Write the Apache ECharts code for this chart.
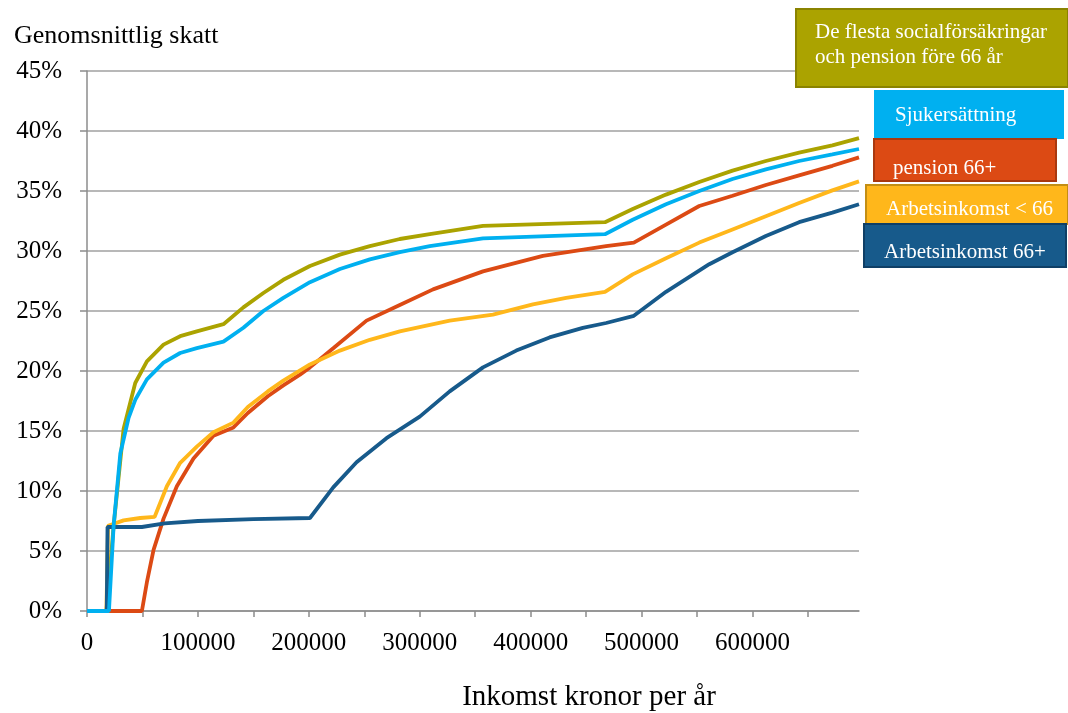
<!DOCTYPE html>
<html>
<head>
<meta charset="utf-8">
<script src="https://cdn.jsdelivr.net/npm/echarts@6/dist/echarts.min.js"></script>
<style>
  html, body { margin: 0; padding: 0; background: #fff; }
  #chart { width: 1068px; height: 713px; }
</style>
</head>
<body>
<div id="chart"></div>
<script>
// serienamn
var names = ['De flesta socialförsäkringar\noch pension före 66 år', 'Sjukersättning', 'pension 66+', 'Arbetsinkomst < 66', 'Arbetsinkomst 66+'];

// inkomst (kr/år) och genomsnittlig skatt (%) per serie
var socialX = [0, 17500, 24000, 33000, 43500, 54000, 69000, 84000, 99000, 123000, 141000, 159000, 177000, 201000, 228000, 255000, 282000, 309000, 357000, 467000, 492000, 522000, 552000, 582000, 612000, 642000, 672000, 696000];
var socialY = [0, 0, 7.1, 15.2, 19.0, 20.8, 22.2, 22.9, 23.3, 23.9, 25.3, 26.5, 27.6, 28.75, 29.7, 30.4, 31.0, 31.4, 32.1, 32.4, 33.5, 34.7, 35.75, 36.7, 37.5, 38.2, 38.8, 39.4];

var sjukX = [0, 19800, 24000, 30000, 37500, 43500, 54000, 69000, 84000, 99000, 123000, 141000, 159000, 177000, 201000, 228000, 255000, 282000, 309000, 357000, 467000, 492000, 522000, 552000, 582000, 612000, 642000, 672000, 696000];
var sjukY = [0, 0, 7.1, 13.1, 16.1, 17.6, 19.3, 20.7, 21.5, 21.9, 22.45, 23.6, 25.0, 26.1, 27.4, 28.5, 29.3, 29.9, 30.4, 31.05, 31.4, 32.6, 33.9, 35.0, 36.0, 36.8, 37.5, 38.05, 38.5];

var pensionX = [0, 49500, 54000, 60000, 69000, 81000, 96000, 114000, 132000, 145000, 163000, 177000, 192000, 201000, 222000, 252000, 282000, 312000, 357000, 411000, 468000, 493000, 522000, 552000, 582000, 612000, 642000, 672000, 696000];
var pensionY = [0, 0, 2.4, 5.1, 7.7, 10.4, 12.7, 14.6, 15.3, 16.5, 17.9, 18.8, 19.7, 20.3, 21.9, 24.2, 25.5, 26.8, 28.3, 29.6, 30.4, 30.7, 32.2, 33.75, 34.6, 35.5, 36.3, 37.1, 37.8];

var arbUnderX = [0, 17500, 19000, 33000, 48000, 61000, 72000, 84000, 99000, 114000, 132000, 145000, 163000, 177000, 201000, 228000, 255000, 282000, 327000, 366000, 402000, 432000, 467000, 492000, 522000, 552000, 582000, 612000, 642000, 672000, 696000];
var arbUnderY = [0, 0, 7.1, 7.55, 7.75, 7.85, 10.4, 12.35, 13.7, 14.9, 15.7, 17.0, 18.3, 19.2, 20.55, 21.7, 22.6, 23.3, 24.2, 24.7, 25.55, 26.1, 26.6, 28.05, 29.4, 30.7, 31.8, 32.9, 34.0, 35.05, 35.8];

var arbOverX = [0, 17800, 18500, 49500, 70000, 100000, 150000, 201000, 222000, 243000, 270000, 300000, 327000, 357000, 387000, 417000, 447000, 468000, 493000, 522000, 561000, 582000, 612000, 642000, 672000, 696000];
var arbOverY = [0, 0, 7.0, 7.0, 7.3, 7.5, 7.65, 7.75, 10.3, 12.4, 14.4, 16.2, 18.3, 20.3, 21.7, 22.8, 23.6, 24.0, 24.6, 26.6, 28.9, 29.9, 31.25, 32.4, 33.2, 33.9];

var colors = ['#aba300', '#00b0f0', '#dc4a14', '#ffb71b', '#175a8b'];
var borders = ['#8a8300', '#00b0f0', '#a9380f', '#c38e14', '#0f3f66'];

function pairs(xs, ys) {
    var out = [];
    for (var i = 0; i < xs.length; i++) out.push([xs[i], ys[i]]);
    return out;
}

var seriesData = [
    pairs(socialX, socialY),
    pairs(sjukX, sjukY),
    pairs(pensionX, pensionY),
    pairs(arbUnderX, arbUnderY),
    pairs(arbOverX, arbOverY)
];
// ritordning: oliv, röd, gul, mörkblå, cyan överst
var drawOrder = [0, 2, 3, 4, 1];

var serif = 'Liberation Serif';
var chart = echarts.init(document.getElementById('chart'));

var series = [];
drawOrder.forEach(function (k) {
    series.push({
        name: names[k],
        type: 'line',
        data: seriesData[k],
        showSymbol: false,
        smooth: false,
        lineStyle: { color: colors[k], width: 3.8 },
        itemStyle: { color: colors[k] },
        z: 2
    });
});

// textrutor till höger
var boxes = [
    { x: 796, y: 9, w: 272, h: 78, tx: 815, ty: 20 },
    { x: 875, y: 91, w: 188, h: 47, tx: 895, ty: 103 },
    { x: 874, y: 139, w: 182, h: 42, tx: 893, ty: 156 },
    { x: 866, y: 185, w: 202, h: 39, tx: 886, ty: 197 },
    { x: 864, y: 224, w: 202, h: 43, tx: 884, ty: 240 }
];
var graphics = [];
boxes.forEach(function (b, k) {
    graphics.push({
        type: 'rect',
        shape: { x: b.x, y: b.y, width: b.w, height: b.h },
        style: { fill: colors[k], stroke: borders[k], lineWidth: 2 },
        z: 10
    });
    graphics.push({
        type: 'text',
        x: b.tx, y: b.ty,
        style: {
            text: names[k],
            fill: '#ffffff',
            font: '21px "' + serif + '"',
            lineHeight: 25
        },
        z: 11
    });
});
graphics.push({
    type: 'text',
    x: 589, y: 697,
    style: {
        text: 'Inkomst kronor per år',
        fill: '#000',
        font: '29px "' + serif + '"',
        textAlign: 'center',
        textVerticalAlign: 'middle'
    }
});

var option = {
    animation: false,
    title: {
        text: 'Genomsnittlig skatt',
        left: 9, top: 18,
        textStyle: { fontFamily: serif, fontSize: 26, fontWeight: 'normal', color: '#000' }
    },
    grid: { left: 87, right: 209, top: 71, bottom: 102 },
    xAxis: {
        type: 'value',
        min: 0,
        max: 696000,
        interval: 50000,
        splitLine: { show: false },
        axisLine: { lineStyle: { color: '#8c8c8c', width: 1.5 } },
        axisTick: { show: true, length: 6, lineStyle: { color: '#8c8c8c', width: 1.5 } },
        axisLabel: {
            margin: 20,
            fontFamily: serif, fontSize: 25, color: '#000',
            showMaxLabel: false,
            formatter: function (v) { return v % 100000 === 0 ? String(v) : ''; }
        }
    },
    yAxis: {
        type: 'value',
        min: 0,
        max: 45,
        interval: 5,
        axisLine: { show: true, lineStyle: { color: '#8c8c8c', width: 1.5 } },
        axisTick: { show: true, length: 7, lineStyle: { color: '#8c8c8c', width: 1.5 } },
        splitLine: { lineStyle: { color: '#a0a0a0', width: 1.5 } },
        axisLabel: {
            margin: 25,
            fontFamily: serif, fontSize: 25, color: '#000',
            formatter: '{value}%'
        }
    },
    series: series,
    graphic: graphics
};
chart.setOption(option);
</script>
</body>
</html>
